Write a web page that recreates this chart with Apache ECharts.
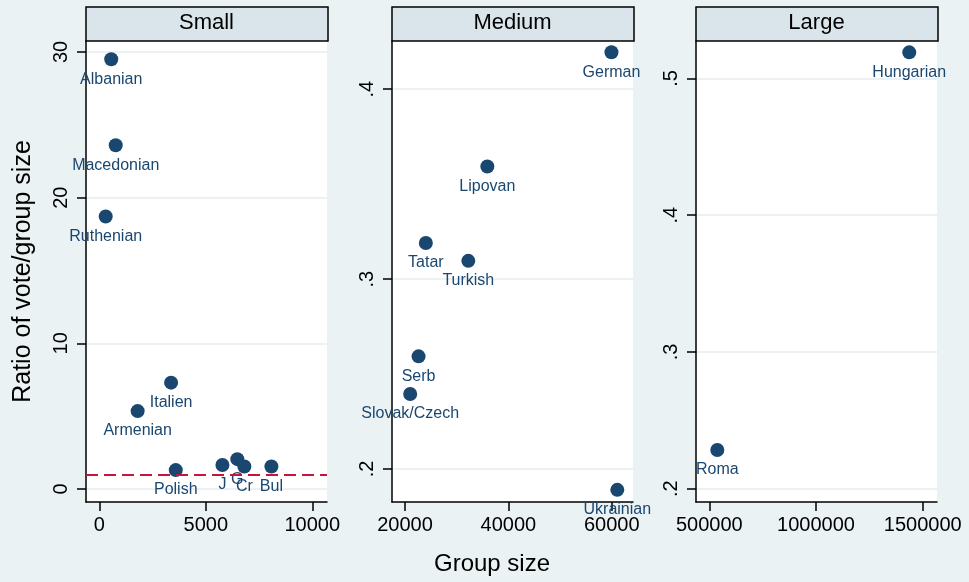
<!DOCTYPE html>
<html>
<head>
<meta charset="utf-8">
<script src="https://cdn.jsdelivr.net/npm/echarts@6/dist/echarts.min.js"></script>
<style>
  html, body { margin: 0; padding: 0; background: #eaf2f3; }
  #chart { width: 969px; height: 582px; }
</style>
</head>
<body>
<div id="chart"></div>
<script>
// panel data (group size, ratio of vote/group size)
const smallNames = ['Albanian', 'Macedonian', 'Ruthenian', 'Italien', 'Armenian', 'Polish', 'J', 'G', 'Cr', 'Bul'];
const smallSize = [560, 770, 300, 3370, 1800, 3590, 5780, 6480, 6810, 8080];
const smallRatio = [29.5, 23.6, 18.7, 7.3, 5.35, 1.3, 1.65, 2.05, 1.55, 1.55];

const mediumNames = ['German', 'Lipovan', 'Tatar', 'Turkish', 'Serb', 'Slovak/Czech', 'Ukrainian'];
const mediumSize = [59950, 35930, 24030, 32250, 22620, 21000, 61080];
const mediumRatio = [0.4195, 0.3593, 0.319, 0.3096, 0.2593, 0.2395, 0.189];

const largeNames = ['Hungarian', 'Roma'];
const largeSize = [1437000, 537500];
const largeRatio = [0.519, 0.2283];

const panelTitles = ['Small', 'Medium', 'Large'];
const xTicks = [[0, 5000, 10000], [20000, 40000, 60000], [500000, 1000000, 1500000]];
const yTicks = [[0, 10, 20, 30], [0.2, 0.3, 0.4], [0.2, 0.3, 0.4, 0.5]];
const refLine = 1;

const font = '"Liberation Sans", Arial, sans-serif';
const navy = '#1a476f';

const gridLefts = [86, 392, 696];
const gridW = 241;
const xRange = [[-625, 10690], [17480, 64120], [437700, 1567000]];
const yRange = [[-0.89, 30.75], [0.1826, 0.4254], [0.1903, 0.5273]];

function pts(names, xs, ys) {
  return names.map((n, i) => ({ name: n, value: [xs[i], ys[i]] }));
}
function dot(v) {
  return String(v).replace(/^0\./, '.');
}

const axisLine = { show: true, onZero: false, lineStyle: { color: '#000', width: 1.5 } };
const axisTick = { show: true, length: 9, lineStyle: { color: '#000', width: 1.5 } };

const myChart = echarts.init(document.getElementById('chart'));

const grids = gridLefts.map(l => ({
  left: l, width: gridW, top: 41, bottom: 80,
  show: true, backgroundColor: '#fff', borderWidth: 0
}));

const xAxes = [0, 1, 2].map(i => ({
  type: 'value', gridIndex: i,
  min: xRange[i][0], max: xRange[i][1],
  axisLine: axisLine,
  axisTick: Object.assign({ customValues: xTicks[i] }, axisTick),
  axisLabel: { customValues: xTicks[i], color: '#000', fontSize: 20, fontFamily: font, margin: 13, formatter: v => String(v) },
  splitLine: { show: false }
}));
xAxes[1].name = 'Group size';
xAxes[1].nameLocation = 'middle';
xAxes[1].nameGap = 50;
xAxes[1].nameTextStyle = { color: '#000', fontSize: 24, fontFamily: font, padding: [0, 41, 0, 0] };

const yAxes = [0, 1, 2].map(i => ({
  type: 'value', gridIndex: i,
  min: yRange[i][0], max: yRange[i][1],
  axisLine: axisLine,
  axisTick: Object.assign({ customValues: yTicks[i] }, axisTick),
  axisLabel: { customValues: yTicks[i], rotate: 90, color: '#000', fontSize: 20, fontFamily: font, margin: 15, formatter: dot },
  splitLine: { show: true, lineStyle: { color: '#e6eef1', width: 1.5 } }
}));
yAxes[0].name = 'Ratio of vote/group size';
yAxes[0].nameLocation = 'middle';
yAxes[0].nameGap = 50;
yAxes[0].nameRotate = 90;
yAxes[0].nameTextStyle = { color: '#000', fontSize: 25, fontFamily: font };

const pointLabel = {
  show: true, position: 'bottom', distance: 5,
  formatter: p => p.name, color: navy, fontSize: 16, fontFamily: font
};

function scatter(i, data) {
  return {
    type: 'scatter', xAxisIndex: i, yAxisIndex: i,
    data: data, symbolSize: 14,
    itemStyle: { color: navy, opacity: 1 },
    label: pointLabel, labelLayout: { hideOverlap: false },
    clip: false, silent: true
  };
}

const series = [
  scatter(0, pts(smallNames, smallSize, smallRatio)),
  scatter(1, pts(mediumNames, mediumSize, mediumRatio)),
  scatter(2, pts(largeNames, largeSize, largeRatio))
];
series[0].markLine = {
  silent: true, symbol: ['none', 'none'], label: { show: false },
  lineStyle: { color: '#c8143c', type: [12, 6], width: 2 },
  data: [{ yAxis: refLine }]
};

// panel header strips
const graphics = [];
gridLefts.forEach((l, i) => {
  graphics.push({
    type: 'rect', shape: { x: l, y: 7, width: gridW + 1, height: 34 },
    style: { fill: '#d9e5ea', stroke: '#000', lineWidth: 1.5 }
  });
  graphics.push({
    type: 'text', x: l + gridW / 2, y: 23,
    style: { text: panelTitles[i], fill: '#000', font: '22px ' + font, align: 'center', verticalAlign: 'middle' }
  });
});

myChart.setOption({
  backgroundColor: '#eaf2f3',
  animation: false,
  grid: grids,
  xAxis: xAxes,
  yAxis: yAxes,
  series: series,
  graphic: graphics
});
</script>
</body>
</html>
